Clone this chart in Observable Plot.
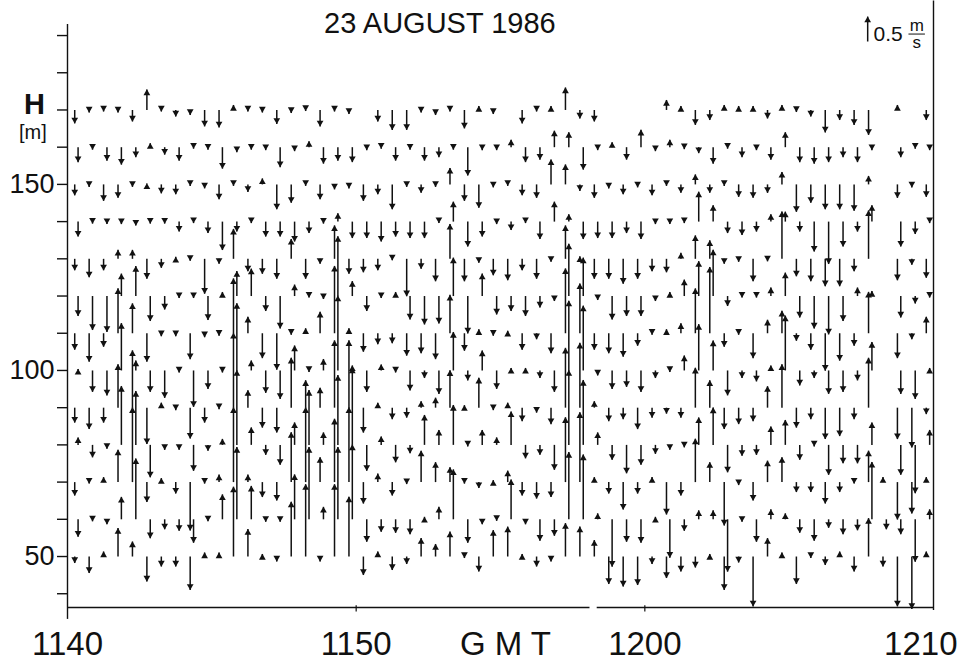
<!DOCTYPE html>
<html>
<head>
<meta charset="utf-8">
<script src="https://cdn.jsdelivr.net/npm/d3@7"></script>
<script src="https://cdn.jsdelivr.net/npm/@observablehq/plot@0.6"></script>
<style>
  html, body { margin: 0; padding: 0; background: #fff; }
  #chart { width: 958px; height: 665px; }
</style>
</head>
<body>
<div id="chart"></div>
<script>
// Sodar vertical wind component w (m/s, positive = upward), one profile every 30 s.
// Range gates (m above ground), top to bottom.
const heights = [170, 160, 150, 140, 130, 120, 110, 100, 90, 80, 70, 60, 50];

// One array per range gate, 60 profiles from 11:40:15 GMT; null = no echo.
const w170 = [-0.27,-0.05,-0.03,-0.05,-0.23,0.41,-0.03,-0.13,-0.1,-0.33,-0.35,0.1,-0.03,-0.05,-0.28,-0.06,-0.02,-0.33,-0.03,-0.08,null,-0.23,-0.4,-0.4,-0.05,-0.1,-0.03,-0.37,0.08,-0.08,null,-0.27,-0.03,0.08,0.45,-0.17,-0.23,null,null,null,null,0.2,0.08,-0.3,-0.2,0.1,0.08,0.08,-0.17,0.1,-0.04,-0.13,-0.45,-0.2,-0.3,-0.5,null,0.1,null,-0.2];
const w160 = [-0.3,-0.05,-0.27,-0.35,-0.2,0.08,-0.15,-0.27,-0.03,-0.05,-0.43,-0.1,-0.05,-0.06,-0.4,-0.08,0.12,-0.33,-0.27,-0.3,-0.06,-0.03,-0.27,-0.05,-0.27,-0.2,-0.05,-0.57,-0.06,-0.06,0.15,-0.3,-0.25,0.33,0.3,-0.45,-0.06,0.1,-0.25,0.35,-0.08,0.15,-0.04,-0.12,-0.33,-0.03,-0.2,-0.06,-0.25,0.3,-0.3,-0.33,-0.3,-0.2,-0.3,-0.06,null,-0.2,-0.03,-0.06];
const w150 = [-0.22,-0.05,-0.33,-0.27,-0.05,0.02,-0.18,-0.2,-0.03,-0.08,-0.3,-0.03,-0.15,0.12,-0.5,-0.37,-0.03,-0.3,-0.1,-0.08,-0.33,-0.2,-0.5,-0.05,-0.17,-0.05,0.33,-0.33,-0.47,-0.06,-0.03,-0.22,-0.27,0.5,0.4,-0.13,-0.27,-0.08,-0.2,-0.06,-0.22,-0.03,-0.17,0.2,-0.17,-0.03,-0.25,-0.27,-0.17,0.25,-0.55,-0.37,-0.5,-0.5,-0.53,0.17,null,-0.27,-0.06,-0.25];
const w140 = [-0.3,-0.04,-0.05,-0.05,-0.08,-0.04,-0.04,-0.2,-0.03,-0.23,-0.57,-0.2,-0.03,-0.3,-0.3,-0.4,-0.23,-0.04,0.17,-0.33,-0.33,-0.4,-0.3,-0.33,-0.33,-0.03,0.4,-0.5,-0.3,-0.05,-0.17,-0.03,-0.35,0.4,0.15,-0.35,-0.33,-0.33,-0.23,-0.35,-0.05,-0.05,-0.03,0.6,0.33,-0.23,-0.27,-0.2,0.15,0.2,-0.2,-0.6,-0.85,-0.5,-0.2,0.33,null,-0.5,-0.25,-0.03];
const w130 = [-0.23,-0.37,-0.23,0.18,0.18,-0.4,-0.18,0.04,-0.04,-0.7,-0.1,0.6,-0.25,-0.3,-0.4,0.4,-0.4,-0.1,0.67,-0.3,-0.27,-0.23,-0.03,-0.75,-0.2,-0.45,0.7,-0.45,-0.08,-0.33,-0.43,-0.23,-0.4,-0.06,0.67,0.05,-0.4,-0.4,-0.5,-0.4,-0.25,-0.27,0.12,0.47,0.37,-0.1,-0.06,-0.45,-0.05,0.95,-0.35,-0.45,-0.55,-0.55,-0.25,0.97,null,-0.43,-0.12,-0.38];
const w120 = [-0.4,-0.68,-0.72,0.45,0.6,-0.5,-0.27,-0.04,-0.04,-0.48,0.08,0.5,0.55,-0.3,-0.65,0.23,-0.03,-0.06,1.2,0.3,-0.3,-0.04,0.08,-0.47,-0.57,-0.55,0.77,-0.75,0.45,-0.37,-0.3,-0.4,-0.23,-0.1,1.05,0.77,-0.08,-0.47,-0.4,-0.4,-0.1,0.08,0.33,0.7,0.93,-0.2,-0.03,-0.03,0.17,0.47,-0.43,-0.65,-0.77,-0.5,0.17,0.1,null,-0.43,-0.15,-0.03];
const w110 = [-0.33,-0.57,-0.27,0.9,0.6,-0.57,-0.06,-0.06,-0.52,-0.08,-0.05,1.1,0.33,-0.5,-0.73,-0.03,0.1,0.43,1.35,0.1,-0.37,-0.22,-0.2,-0.45,-0.4,-0.52,0.77,-0.35,0.08,-0.05,0.05,-0.33,-0.12,-0.4,1.3,1.0,-0.33,-0.4,-0.47,-0.25,-0.03,0.08,0.2,0.9,1.33,-0.27,-0.03,-0.5,0.27,0.45,-0.15,-0.33,-0.75,-0.55,-0.25,0.83,null,-0.5,-0.12,0.33];
const w100 = [0.03,-0.43,-0.5,0.95,0.2,-0.43,-0.55,-0.04,-0.73,-0.37,-0.04,1.35,0.2,-0.45,-0.57,0.5,-0.03,0.23,1.5,0.1,-0.43,0.12,-0.04,-0.4,-0.15,-0.47,0.77,-0.2,0.4,-0.37,0.05,0.05,-0.15,-0.43,1.4,1.3,-0.1,-0.37,-0.33,-0.43,-0.15,-0.03,0.3,0.93,0.6,-0.5,-0.15,-0.22,0.1,1.1,-0.3,-0.15,-0.47,-0.43,-0.2,0.57,null,-0.47,-0.57,0.05];
const w90 = [-0.3,-0.43,-0.3,0.87,1.15,-0.73,0.1,-0.05,-0.62,-0.3,-0.03,1.5,0.35,-0.4,-0.5,1.0,0.55,0.4,1.35,1.35,-0.5,0.1,-0.23,-0.2,0.13,0.2,0.75,0.05,0.6,-0.05,0.1,-0.27,-0.1,-0.33,1.2,1.3,0.13,-0.27,-0.23,-0.43,-0.2,-0.12,-0.2,0.8,0.55,-0.43,-0.33,-0.27,0.43,0.87,-0.4,-0.23,-0.63,-0.57,-0.23,1.0,null,-0.63,-0.8,-0.13];
const w80 = [0.15,-0.25,-0.08,1.18,1.08,-0.65,-0.1,-0.1,-0.52,-0.12,0.12,1.5,0.35,-0.2,-0.4,0.45,1.1,0.25,1.4,1.55,-0.52,0.17,-0.35,-0.17,0.6,0.3,0.8,-0.03,0.3,0.15,0.67,-0.27,-0.2,-0.5,1.5,1.3,0.25,-0.3,-0.57,-0.4,-0.18,-0.1,-0.05,0.55,0.75,-0.55,-0.22,-0.2,0.37,0.5,-0.3,-0.03,-0.6,-0.37,-0.37,0.45,null,-0.6,-0.97,0.3];
const w70 = [-0.27,-0.03,0.1,0.65,1.5,-0.4,0.08,-0.23,-0.97,-0.03,0.15,1.5,0.15,-0.3,-0.37,1.0,1.5,0.5,1.27,1.5,-0.43,0.17,-0.27,-0.04,0.63,0.4,0.3,-0.03,-0.12,0.04,0.23,-0.27,-0.33,-0.3,1.3,1.4,0.1,-0.23,-0.55,-0.23,0.1,-0.65,-0.27,0.87,0.4,-0.87,-0.06,-0.37,0.43,0.5,-0.2,-0.2,-0.43,-0.2,-0.03,0.63,0.1,-0.75,-0.63,0.1];
const w60 = [-0.35,-0.04,-0.1,0.45,1.22,-0.38,-0.2,-0.23,-0.47,-0.04,0.5,1.45,0.67,-0.05,-0.05,0.9,1.45,0.25,1.45,1.5,-0.45,-0.25,-0.27,-0.3,0.05,0.25,1.0,-0.47,-0.1,-0.03,0.8,-0.1,-0.43,-0.33,1.35,1.3,0.12,-0.95,-0.45,-0.47,0.05,-0.77,-0.23,0.18,0.18,-1.05,-0.05,-0.45,0.2,0.12,-0.27,-0.43,-0.17,-0.3,-0.22,1.15,-0.2,-0.3,-0.85,0.2];
const w50 = [-0.13,-0.33,0.1,0.57,0.3,-0.5,-0.2,-0.2,-0.67,0.08,0.08,1.4,0.55,0.05,-0.1,1.1,1.45,-0.1,1.45,1.2,-0.37,0.1,-0.27,-0.15,0.37,0.25,0.5,-0.03,-0.3,0.53,0.6,0.05,-0.2,-0.1,0.67,0.6,0.33,-0.55,-0.6,-0.57,-0.15,-0.43,-0.3,-0.22,0.05,-0.67,-0.12,-1.0,0.37,0.08,-0.55,-0.03,-0.17,0.1,-0.3,0.77,-0.2,-1.0,-1.05,0.1];

const gates = [w170, w160, w150, w140, w130, w120, w110, w100, w90, w80, w70, w60, w50];

// Profile timing: first profile 15 s after 11:40, every 30 s; alternate gates lag by 7 s.
const firstProfileSec = 15;
const profileStepSec = 30;
const gateLagSec = [0, 7, 0, 7, 0, 7, 0, 7, 0, 7, 0, 7, 0];

// Axis ticks and labels (minutes after 11:40 on x, metres on y).
const timeTicks = [0, 10, 20, 30];
const timeLabels = ["1140", "1150", "1200", "1210"];
const heightTicks = [40, 50, 60, 70, 80, 90, 100, 110, 120, 130, 140, 150, 160, 170, 180, 190];
const heightLabels = [50, 100, 150];

// Reference arrow: 0.5 m/s.
const refSpeed = 0.5;

// Arrow length: 1 m/s is drawn as this many metres on the height scale.
const metresPerMs = 13.4;

const yMin = 36.3, yMax = 192.7;

const vectors = [];
gates.forEach((vals, r) => {
  vals.forEach((w, i) => {
    if (w == null) return;
    vectors.push({
      h: heights[r],
      t: (firstProfileSec + profileStepSec * i + gateLagSec[r]) / 60,
      w
    });
  });
});
const tip = d => d.h + d.w * metresPerMs;

const refArrow = [{t: 27.72, h: 188.4, w: refSpeed}];

// Bottom axis line, drawn in two pieces around the chart-paper join.
const baseline = [{x1: 0, x2: 18.1}, {x1: 18.35, x2: 30}];

const ink = "#111";
const letterFont = "'Liberation Sans', Arial, sans-serif";

const chart = Plot.plot({
  width: 958,
  height: 665,
  marginLeft: 67,
  marginRight: 25,
  marginTop: 25,
  marginBottom: 58,
  x: {domain: [0, 30], axis: null},
  y: {domain: [yMin, yMax], axis: null},
  style: {fontFamily: letterFont, color: ink, background: "#fff", overflow: "visible"},
  marks: [
    // left axis: line and ticks every 10 m
    Plot.ruleX([0], {y1: yMin, y2: yMax + 0.3, stroke: ink, strokeWidth: 1.4}),
    Plot.axisY({
      ticks: heightTicks,
      tickSize: 10,
      tickPadding: 3,
      tickFormat: d => heightLabels.includes(d) ? String(d) : "",
      fontSize: 27,
      strokeWidth: 1.4,
      label: null
    }),
    // bottom axis line and ticks
    Plot.ruleY(baseline, {y: yMin, x1: "x1", x2: "x2", stroke: ink, strokeWidth: 1.4}),
    Plot.ruleX([0], {y1: yMin, y2: yMin - 3.2, stroke: ink, strokeWidth: 1.4}),
    Plot.ruleX([10, 20], {y1: yMin + 0.5, y2: yMin - 1.2, stroke: ink, strokeWidth: 1.2}),
    // right frame line
    Plot.ruleX([30], {y1: yMin - 0.8, y2: yMax + 6.6, stroke: ink, strokeWidth: 1.4}),
    Plot.text(timeTicks.slice(0, 3), {
      x: d => d, y: yMin, text: (d, i) => timeLabels[i],
      dy: 37, fontSize: 33, fontFamily: letterFont, fill: ink, ariaLabel: "time-labels"
    }),
    Plot.text(timeTicks.slice(3), {
      x: d => d, y: yMin, text: (d, i) => timeLabels[3 + i],
      dy: 37, dx: 24, textAnchor: "end", fontSize: 33, fontFamily: letterFont, fill: ink, ariaLabel: "time-labels"
    }),
    Plot.text(["G M T"], {
      x: 15.17, y: yMin, dy: 37, fontSize: 33, fontFamily: letterFont, fill: ink, ariaLabel: "time-unit"
    }),
    // height label
    Plot.text(["H"], {x: -1.14, y: 171.5, fontSize: 29, fontWeight: "bold", fill: ink}),
    Plot.text(["[m]"], {x: -1.2, y: 163.9, fontSize: 20, fill: ink}),
    // title
    Plot.text(["23 AUGUST 1986"], {x: 12.9, y: yMax, dy: -2, fontSize: 29, fill: ink}),
    // wind vectors: shaft from the gate height to the tip, filled head at the tip
    Plot.link(vectors, {x1: "t", x2: "t", y1: "h", y2: tip, stroke: ink, strokeWidth: 1.5}),
    Plot.dot(vectors.filter(d => d.w >= 0), {x: "t", y: tip, symbol: "triangle", r: 2.5, fill: ink, stroke: "none", dy: 3.7}),
    Plot.dot(vectors.filter(d => d.w < 0), {x: "t", y: tip, symbol: "triangle", r: 2.5, fill: ink, stroke: "none", rotate: 180, dy: -3.7}),
    // reference arrow and its label
    Plot.link(refArrow, {x1: "t", x2: "t", y1: "h", y2: tip, stroke: ink, strokeWidth: 1.5}),
    Plot.dot(refArrow, {x: "t", y: tip, symbol: "triangle", r: 2.5, fill: ink, stroke: "none", dy: 3.7}),
    Plot.text(["0.5"], {x: 27.92, y: 190.4, textAnchor: "start", fontSize: 21, fill: ink}),
    Plot.text(["m"], {x: 29.42, y: 192.7, fontSize: 17, fill: ink}),
    Plot.ruleY([190.4], {x1: 29.15, x2: 29.72, stroke: ink, strokeWidth: 1}),
    Plot.text(["s"], {x: 29.42, y: 188.0, fontSize: 17, fill: ink})
  ]
});

// Condensed plotter-style lettering on the time axis.
d3.select(chart).selectAll('g[aria-label="time-labels"] text')
  .attr("textLength", 56).attr("lengthAdjust", "spacingAndGlyphs");
d3.select(chart).selectAll('g[aria-label="time-unit"] text')
  .attr("textLength", 54).attr("lengthAdjust", "spacingAndGlyphs");

document.getElementById("chart").appendChild(chart);
</script>
</body>
</html>
